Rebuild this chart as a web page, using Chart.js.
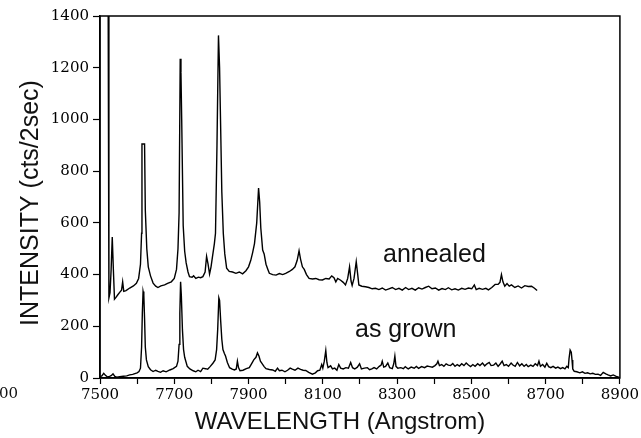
<!DOCTYPE html>
<html>
<head>
    <title>Photoluminescence spectra</title>
    <script src="https://cdn.jsdelivr.net/npm/chart.js"></script>
    <meta charset="UTF-8" />
    <style>
  html, body {
    margin: 0;
    padding: 0;
    background: #fff;
    overflow: hidden;
  }
  canvas { display: block; }
</style>
</head>
<body>
    <canvas id="myChart" width="641" height="438"></canvas>
    <script>
        // wavelength (Angstrom) and intensity (cts/2sec) of each spectrum
        const annealedX = [7522, 7524, 7527, 7530, 7533, 7536, 7539, 7543, 7548, 7554, 7558, 7561, 7564, 7570, 7580, 7590, 7598, 7604, 7609, 7612,
            7613, 7620, 7622, 7626, 7630, 7636, 7643, 7650, 7656, 7664, 7674, 7682, 7692, 7700, 7706, 7710, 7713, 7716, 7718, 7720,
            7724, 7728, 7732, 7737, 7741, 7748, 7752, 7758, 7765, 7771, 7777, 7783, 7787, 7791, 7795, 7799, 7803, 7808, 7811, 7815,
            7819, 7822, 7824, 7828, 7832, 7836, 7841, 7848, 7857, 7866, 7875, 7884, 7893, 7900, 7906, 7911, 7916, 7922, 7927, 7930,
            7933, 7938, 7942, 7947, 7952, 7956, 7965, 7974, 7983, 7992, 8000, 8010, 8018, 8025, 8031, 8036, 8040, 8045, 8050, 8056,
            8063, 8072, 8081, 8090, 8099, 8108, 8117, 8124, 8130, 8135, 8140, 8148, 8155, 8161, 8167, 8172, 8176, 8179, 8184, 8190,
            8194, 8197, 8205, 8215, 8224, 8233, 8242, 8251, 8260, 8269, 8278, 8287, 8296, 8305, 8314, 8323, 8331, 8340, 8349, 8358,
            8367, 8376, 8385, 8394, 8403, 8412, 8421, 8430, 8438, 8447, 8456, 8465, 8474, 8483, 8492, 8501, 8508, 8513, 8521, 8530,
            8539, 8546, 8555, 8564, 8572, 8577, 8581, 8585, 8590, 8596, 8602, 8608, 8617, 8626, 8635, 8644, 8653, 8662, 8670, 8677];
        const annealedY = [1450, 310, 330, 420, 545, 420, 305, 312, 322, 333, 340, 372, 335, 338, 348, 356, 366, 385, 440, 560,
            905, 905, 650, 500, 430, 395, 367, 355, 350, 356, 360, 366, 372, 385, 420, 500, 640, 1235, 1180, 1000,
            590, 490, 445, 410, 392, 390, 395, 385, 390, 388, 392, 410, 470, 440, 402, 430, 470, 520, 560, 900,
            1325, 1200, 1040, 720, 560, 480, 425, 412, 410, 405, 410, 403, 415, 430, 455, 485, 520, 600, 735, 680,
            580, 495, 480, 440, 420, 405, 400, 398, 404, 400, 405, 412, 420, 430, 455, 492, 460, 430, 420, 400,
            385, 383, 385, 380, 379, 385, 383, 395, 388, 372, 385, 378, 370, 360, 385, 430, 375, 358, 385, 450,
            400, 360, 355, 353, 350, 345, 347, 342, 348, 340, 345, 350, 342, 347, 340, 350, 342, 347, 340, 349,
            344, 350, 355, 345, 348, 340, 346, 342, 349, 341, 345, 340, 347, 343, 348, 345, 360, 342, 347, 343,
            347, 341, 350, 362, 362, 370, 400, 372, 355, 365, 355, 360, 350, 356, 348, 357, 354, 355, 347, 338];

        const grownX = [7500, 7505, 7510, 7514, 7520, 7526, 7531, 7535, 7540, 7545, 7553, 7563, 7572, 7580, 7588, 7594, 7600, 7605, 7609, 7612,
            7614, 7616, 7618, 7620, 7622, 7625, 7630, 7636, 7643, 7650, 7656, 7663, 7670, 7678, 7688, 7697, 7706, 7710, 7713, 7715,
            7717, 7719, 7722, 7725, 7728, 7735, 7742, 7751, 7758, 7764, 7771, 7777, 7784, 7790, 7797, 7804, 7810, 7814, 7817, 7820,
            7822, 7825, 7828, 7831, 7835, 7838, 7843, 7849, 7856, 7862, 7867, 7870, 7873, 7877, 7885, 7894, 7902, 7908, 7914, 7920,
            7924, 7928, 7932, 7937, 7942, 7947, 7956, 7965, 7972, 7978, 7983, 7990, 7998, 8005, 8012, 8018, 8025, 8033, 8040, 8047,
            8054, 8062, 8072, 8080, 8086, 8092, 8097, 8100, 8104, 8108, 8111, 8114, 8121, 8126, 8132, 8138, 8143, 8148, 8155, 8162,
            8169, 8175, 8180, 8186, 8193, 8199, 8204, 8212, 8220, 8226, 8232, 8238, 8245, 8252, 8257, 8260, 8264, 8269, 8275, 8280,
            8287, 8291, 8294, 8297, 8302, 8310, 8317, 8322, 8330, 8338, 8346, 8352, 8358, 8366, 8374, 8381, 8388, 8395, 8402, 8407,
            8410, 8414, 8420, 8426, 8432, 8438, 8444, 8450, 8456, 8462, 8468, 8474, 8480, 8486, 8492, 8498, 8504, 8510, 8517, 8523,
            8530, 8536, 8542, 8548, 8553, 8560, 8566, 8572, 8578, 8583, 8588, 8594, 8600, 8607, 8612, 8618, 8624, 8630, 8636, 8642,
            8648, 8653, 8660, 8666, 8672, 8678, 8682, 8686, 8692, 8698, 8703, 8708, 8714, 8720, 8727, 8733, 8740, 8746, 8752, 8757,
            8761, 8763, 8766, 8769, 8771, 8773, 8777, 8784, 8792, 8799, 8806, 8813, 8820, 8827, 8834, 8841, 8848, 8855, 8862, 8868,
            8875, 8882, 8890, 8897];
        const grownY = [5, 8, 18, 12, 4, 6, 10, 16, 6, 3, 5, 7, 8, 12, 14, 17, 20, 25, 38, 120,
            250, 335, 320, 230, 120, 70, 44, 32, 25, 30, 26, 22, 28, 24, 31, 36, 45, 65, 130, 250,
            372, 320, 186, 110, 80, 45, 35, 28, 24, 30, 25, 38, 36, 34, 45, 57, 70, 110, 190, 310,
            300, 220, 150, 110, 95, 85, 60, 40, 34, 31, 35, 65, 40, 28, 30, 36, 40, 55, 70, 80,
            97, 85, 65, 55, 44, 36, 33, 31, 26, 38, 28, 30, 24, 30, 38, 34, 30, 38, 33, 30,
            29, 22, 15, 20, 28, 30, 52, 38, 65, 106, 60, 40, 47, 35, 38, 30, 52, 38, 35, 40,
            38, 60, 40, 35, 42, 55, 35, 38, 40, 32, 35, 40, 35, 45, 50, 65, 42, 45, 58, 40,
            36, 55, 85, 45, 38, 40, 36, 44, 35, 42, 38, 45, 37, 44, 40, 46, 44, 42, 48, 55,
            65, 48, 52, 45, 55, 50, 48, 56, 45, 52, 46, 55, 48, 58, 50, 44, 52, 45, 55, 48,
            58, 47, 55, 60, 48, 50, 58, 45, 55, 65, 48, 52, 45, 58, 50, 45, 60, 47, 55, 45,
            52, 44, 50, 45, 55, 48, 65, 45, 52, 42, 57, 44, 40, 45, 38, 42, 36, 40, 35, 45,
            40, 75, 108, 100, 70, 35, 26, 24, 20, 24, 18, 20, 16, 18, 14, 15, 10, 22, 16, 12,
            8, 12, 6, 3];

        const toPoints = (xs, ys) => xs.map((x, i) => ({ x: x, y: ys[i] }));

        // frame, axis titles and curve labels
        const decorations = {
            id: 'decorations',
            afterDraw(chart) {
                const ctx = chart.ctx;
                const a = chart.chartArea;
                ctx.save();
                ctx.strokeStyle = '#000';
                ctx.lineWidth = 1.5;
                ctx.strokeRect(a.left, a.top, a.right - a.left, a.bottom - a.top);

                ctx.fillStyle = '#111';
                ctx.font = '24px "Liberation Sans", Arial, sans-serif';
                ctx.textAlign = 'center';
                ctx.textBaseline = 'alphabetic';
                ctx.fillText('WAVELENGTH (Angstrom)', 340, 429);

                ctx.save();
                ctx.translate(38, 203);
                ctx.rotate(-Math.PI / 2);
                ctx.font = '25px "Liberation Sans", Arial, sans-serif';
                ctx.fillText('INTENSITY (cts/2sec)', 0, 0);
                ctx.restore();

                ctx.font = '25px "Liberation Sans", Arial, sans-serif';
                ctx.textAlign = 'left';
                ctx.fillText('annealed', 383, 262);
                ctx.fillText('as grown', 355, 337);

                ctx.font = '15px "DejaVu Serif", serif';
                ctx.fillText('00', -1, 398);
                ctx.restore();
            }
        };

        const ctx = document.getElementById('myChart').getContext('2d');
        const myChart = new Chart(ctx, {
            type: 'line',
            data: {
                datasets: [{
                    label: 'annealed',
                    data: toPoints(annealedX, annealedY),
                    borderColor: '#000',
                    borderWidth: 1.4,
                    pointRadius: 0,
                    tension: 0
                },
                {
                    label: 'as grown',
                    data: toPoints(grownX, grownY),
                    borderColor: '#000',
                    borderWidth: 1.4,
                    pointRadius: 0,
                    tension: 0
                }]
            },
            options: {
                responsive: false,
                animation: false,
                events: [],
                layout: { padding: { left: 0, right: 19, top: 16, bottom: 0 } },
                plugins: {
                    legend: { display: false },
                    tooltip: { enabled: false }
                },
                scales: {
                    x: {
                        type: 'linear',
                        min: 7500,
                        max: 8900,
                        afterFit: (scale) => { scale.height = 60; },
                        border: { display: true, color: '#000', width: 1.5 },
                        grid: { drawOnChartArea: false, color: '#000', tickLength: 6, tickWidth: 1.2 },
                        ticks: {
                            stepSize: 100,
                            autoSkip: false,
                            maxRotation: 0,
                            padding: 2,
                            color: '#000',
                            font: { family: '"DejaVu Serif", serif', size: 15 },
                            callback: (v) => ((v - 7500) % 200 === 0 ? String(v) : '')
                        }
                    },
                    y: {
                        min: 0,
                        max: 1400,
                        afterFit: (scale) => { scale.width = 100; },
                        border: { display: true, color: '#000', width: 1.5 },
                        grid: { drawOnChartArea: false, color: '#000', tickLength: 7, tickWidth: 1.2 },
                        ticks: {
                            stepSize: 200,
                            padding: 4,
                            color: '#000',
                            font: { family: '"DejaVu Serif", serif', size: 15 },
                            callback: (v) => String(v)
                        }
                    }
                }
            },
            plugins: [decorations]
        });
    </script>
</body>
</html>
